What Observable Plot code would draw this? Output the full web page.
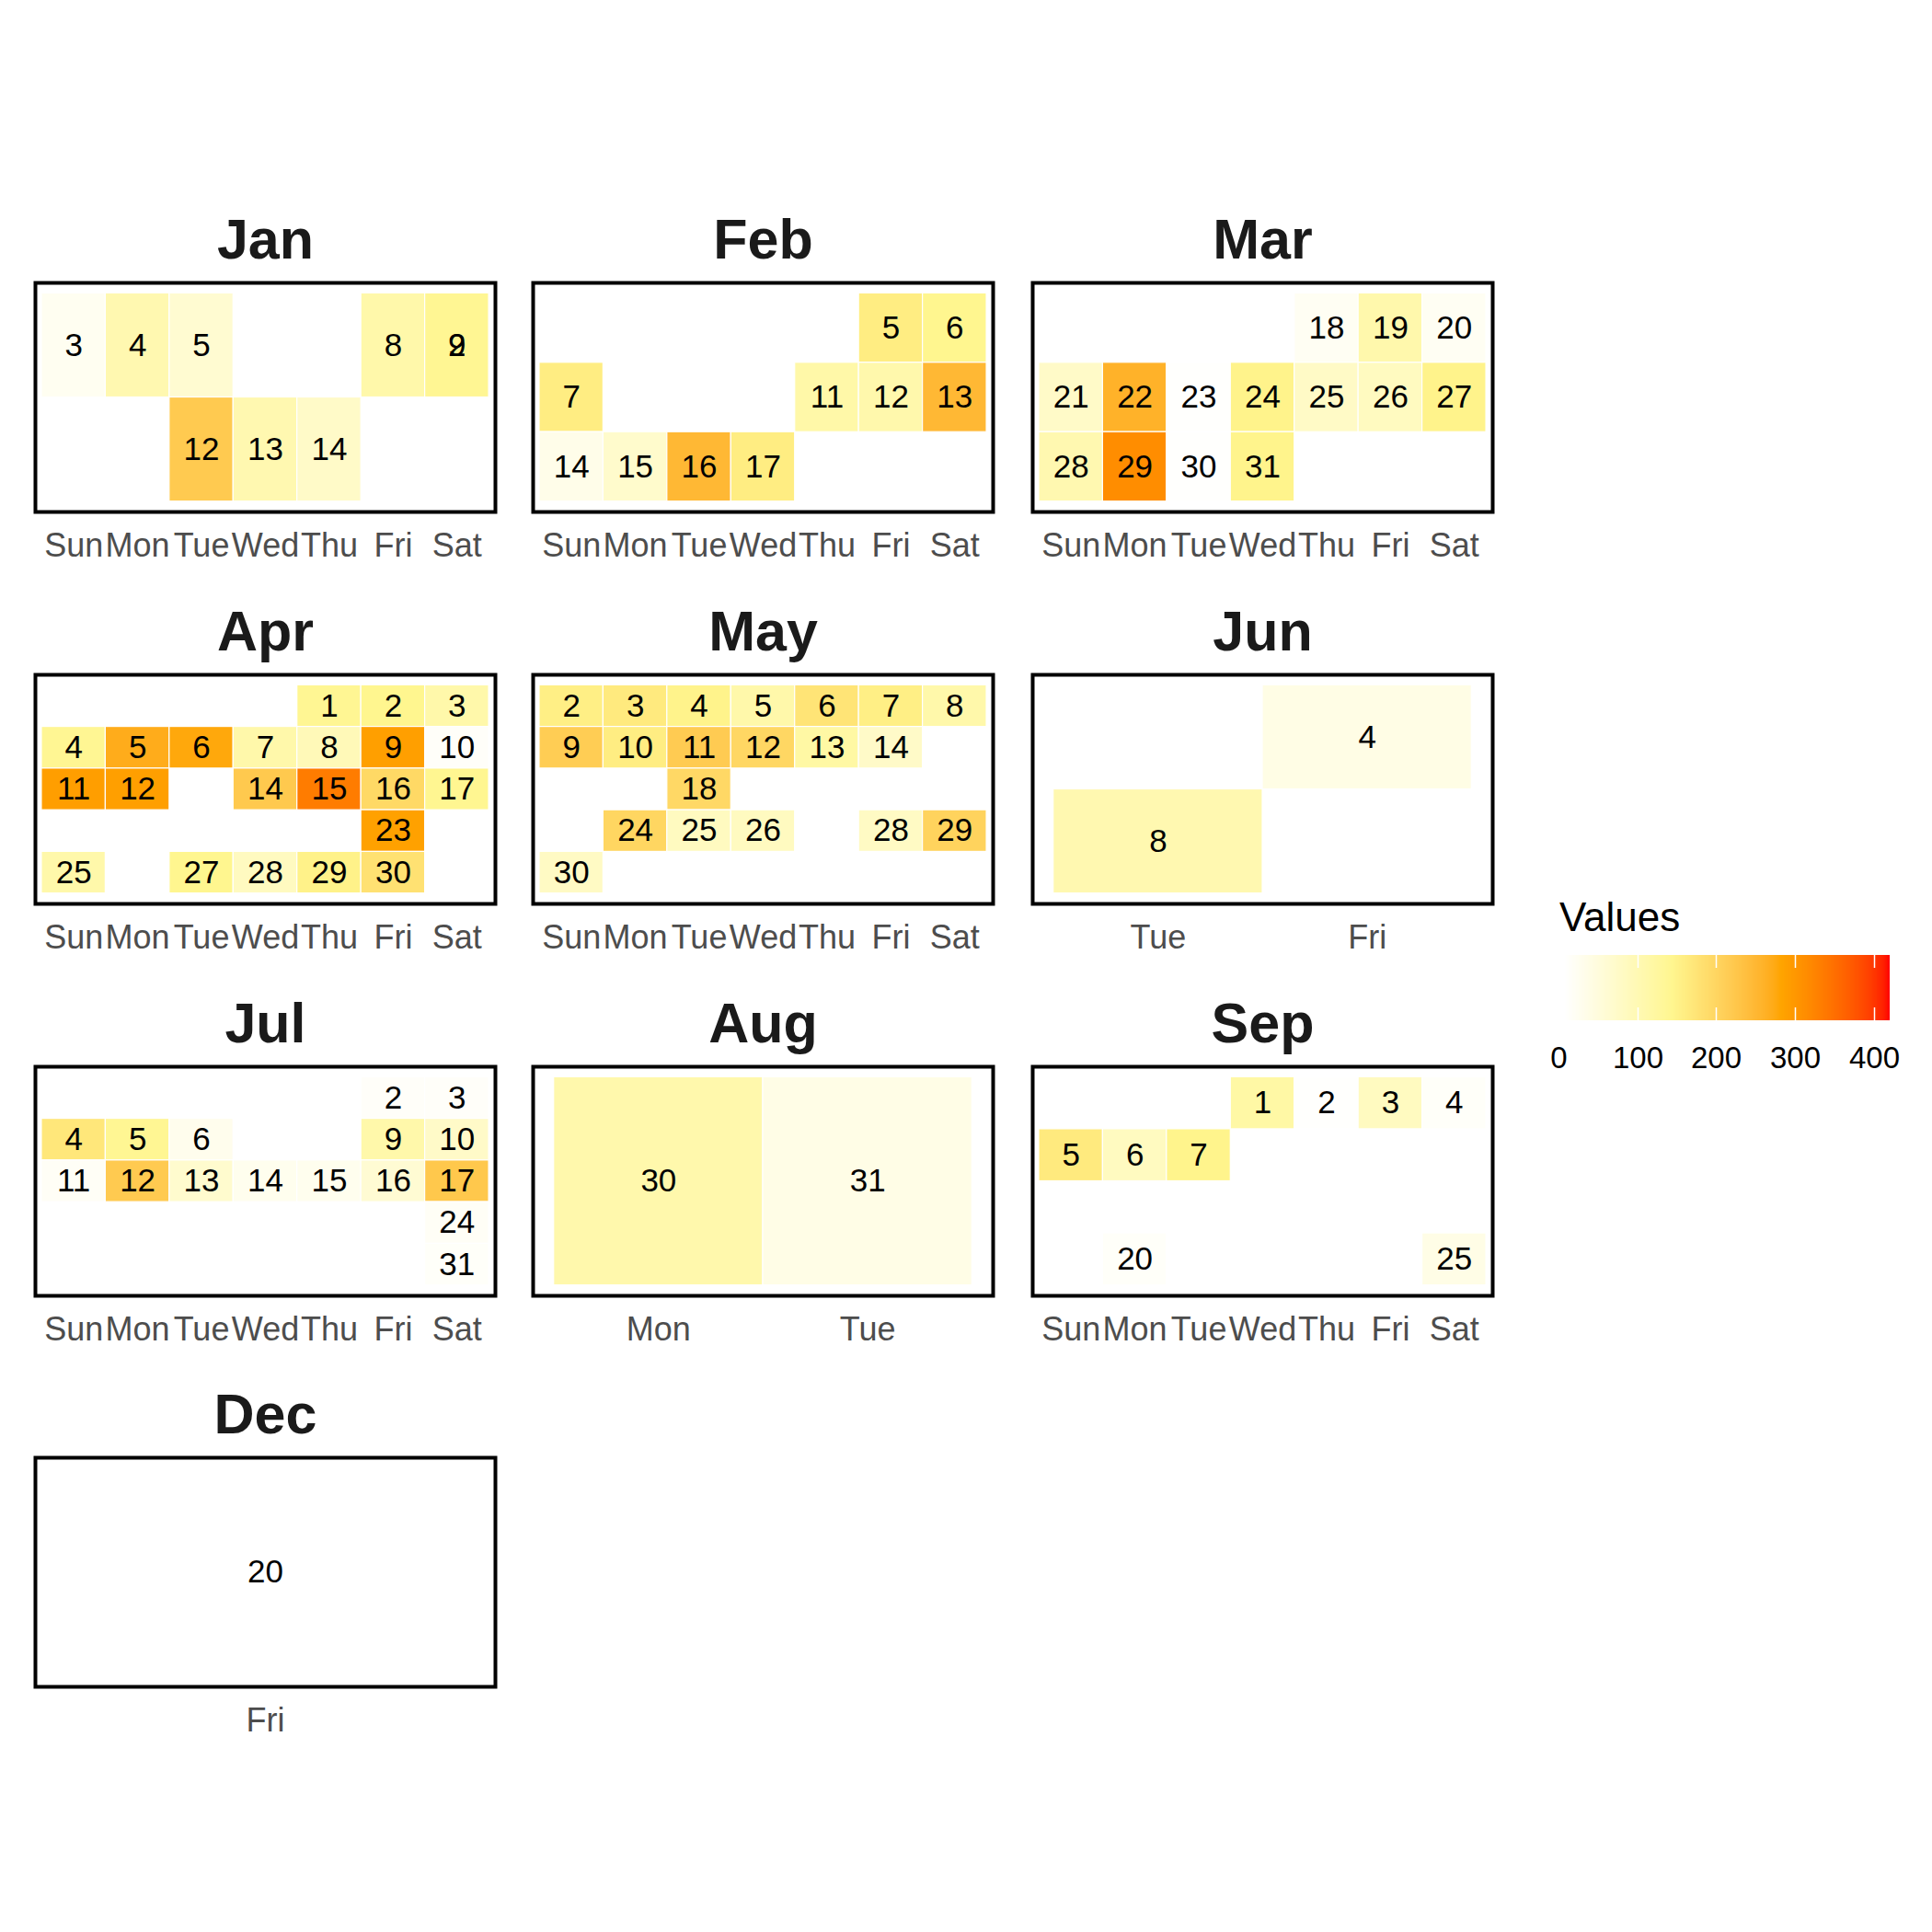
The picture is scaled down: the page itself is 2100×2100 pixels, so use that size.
<!DOCTYPE html>
<html>
<head>
<meta charset="utf-8">
<script src="https://cdn.jsdelivr.net/npm/d3@7"></script>
<script src="https://cdn.jsdelivr.net/npm/@observablehq/plot@0.6"></script>
<style>
  html, body { margin: 0; padding: 0; background: #ffffff; }
  #root { position: relative; width: 2100px; height: 2100px; background: #ffffff; overflow: hidden;
          font-family: "Liberation Sans", Arial, Helvetica, sans-serif; }
  .panel { position: absolute; }
  .legend-title { position: absolute; font-size: 44px; line-height: 44px; color: #000; white-space: nowrap; }
</style>
</head>
<body>
<div id="root"></div>
<script>
// ---------------- data ----------------
const monthNames = ["Jan", "Feb", "Mar", "Apr", "May", "Jun", "Jul", "Aug", "Sep", "Dec"];
const weekdayOrder = ["Sun", "Mon", "Tue", "Wed", "Thu", "Fri", "Sat"];
const legendTitle = "Values";
const legendTicks = [0, 100, 200, 300, 400];
const palette = ["#FFFFFF", "#FFF68F", "#FFA500", "#FF0000"];

// one entry per day shown: month, day of month, weekday column, week row, value
const month = [
  "Jan","Jan","Jan","Jan","Jan","Jan","Jan","Jan","Jan",
  "Feb","Feb","Feb","Feb","Feb","Feb","Feb","Feb","Feb","Feb",
  "Mar","Mar","Mar","Mar","Mar","Mar","Mar","Mar","Mar","Mar","Mar","Mar","Mar","Mar",
  "Apr","Apr","Apr","Apr","Apr","Apr","Apr","Apr","Apr","Apr","Apr","Apr","Apr","Apr","Apr","Apr","Apr","Apr","Apr","Apr","Apr","Apr",
  "May","May","May","May","May","May","May","May","May","May","May","May","May","May","May","May","May","May","May","May",
  "Jun","Jun",
  "Jul","Jul","Jul","Jul","Jul","Jul","Jul","Jul","Jul","Jul","Jul","Jul","Jul","Jul","Jul","Jul",
  "Aug","Aug",
  "Sep","Sep","Sep","Sep","Sep","Sep","Sep","Sep","Sep",
  "Dec"
];
const day = [
  2, 3, 4, 5, 8, 9, 12, 13, 14,
  5, 6, 7, 11, 12, 13, 14, 15, 16, 17,
  18, 19, 20, 21, 22, 23, 24, 25, 26, 27, 28, 29, 30, 31,
  1, 2, 3, 4, 5, 6, 7, 8, 9, 10, 11, 12, 14, 15, 16, 17, 23, 25, 27, 28, 29, 30,
  2, 3, 4, 5, 6, 7, 8, 9, 10, 11, 12, 13, 14, 18, 24, 25, 26, 28, 29, 30,
  4, 8,
  2, 3, 4, 5, 6, 9, 10, 11, 12, 13, 14, 15, 16, 17, 24, 31,
  30, 31,
  1, 2, 3, 4, 5, 6, 7, 20, 25,
  20
];
const weekday = [
  "Sat","Sun","Mon","Tue","Fri","Sat","Tue","Wed","Thu",
  "Fri","Sat","Sun","Thu","Fri","Sat","Sun","Mon","Tue","Wed",
  "Thu","Fri","Sat","Sun","Mon","Tue","Wed","Thu","Fri","Sat","Sun","Mon","Tue","Wed",
  "Thu","Fri","Sat","Sun","Mon","Tue","Wed","Thu","Fri","Sat","Sun","Mon","Wed","Thu","Fri","Sat","Fri","Sun","Tue","Wed","Thu","Fri",
  "Sun","Mon","Tue","Wed","Thu","Fri","Sat","Sun","Mon","Tue","Wed","Thu","Fri","Tue","Mon","Tue","Wed","Fri","Sat","Sun",
  "Fri","Tue",
  "Fri","Sat","Sun","Mon","Tue","Fri","Sat","Sun","Mon","Tue","Wed","Thu","Fri","Sat","Sat","Sat",
  "Mon","Tue",
  "Wed","Thu","Fri","Sat","Sun","Mon","Tue","Mon","Sat",
  "Fri"
];
const week = [
  1, 1, 1, 1, 1, 1, 2, 2, 2,
  5, 5, 6, 6, 6, 6, 7, 7, 7, 7,
  11, 11, 11, 12, 12, 12, 12, 12, 12, 12, 13, 13, 13, 13,
  13, 13, 13, 14, 14, 14, 14, 14, 14, 14, 15, 15, 15, 15, 15, 15, 16, 17, 17, 17, 17, 17,
  18, 18, 18, 18, 18, 18, 18, 19, 19, 19, 19, 19, 19, 20, 21, 21, 21, 21, 21, 22,
  22, 23,
  26, 26, 27, 27, 27, 27, 27, 28, 28, 28, 28, 28, 28, 28, 29, 30,
  35, 35,
  35, 35, 35, 35, 36, 36, 36, 38, 38,
  50
];
const value = [
  420, 25, 105, 65, 112, 140, 220, 105, 75,
  160, 145, 160, 115, 110, 250, 35, 70, 250, 160,
  22, 110, 22, 75, 260, 10, 150, 78, 85, 150, 105, 315, 10, 148,
  140, 145, 112, 140, 270, 278, 112, 95, 290, 15, 292, 290, 222, 335, 195, 142, 288, 112, 145, 85, 152, 180,
  157, 165, 150, 112, 175, 157, 112, 215, 160, 218, 198, 120, 75, 196, 200, 85, 85, 80, 205, 80,
  40, 105,
  15, 15, 170, 140, 30, 112, 75, 18, 220, 68, 28, 28, 62, 224, 18, 14,
  110, 38,
  118, 9, 85, 14, 165, 85, 148, 14, 38,
  7
];

// ---------------- build ----------------
const FONT = '"Liberation Sans", Arial, Helvetica, sans-serif';
const records = month.map((m, i) => ({month: m, day: day[i], weekday: weekday[i], week: week[i], value: value[i]}));
const [lo, hi] = d3.extent(value);
const stops = palette.map((_, i) => lo + i * (hi - lo) / (palette.length - 1));
const colorScale = {type: "linear", domain: stops, range: palette, interpolate: "lab"};

const root = document.getElementById("root");
const PW = 500, PH = 249, ML = 20, MR = 20, MT = 90, MB = 70;
const colLeft = [38, 579, 1122];
const rowTop = [307, 733, 1159, 1584];

monthNames.forEach((name, k) => {
  const rows = records.filter(d => d.month === name);
  const xs = weekdayOrder.filter(w => rows.some(d => d.weekday === w));
  const [w0, w1] = d3.extent(rows, d => d.week);
  const ys = d3.range(w0, w1 + 1);
  const chart = Plot.plot({
    width: PW + ML + MR,
    height: PH + MT + MB,
    marginLeft: ML, marginRight: MR, marginTop: MT, marginBottom: MB,
    style: {fontFamily: FONT, background: "transparent", overflow: "visible"},
    x: {type: "band", domain: xs, paddingInner: 0, paddingOuter: 0.1, round: false},
    // continuous-style 5% expansion on the week axis
    y: {type: "band", domain: ys, paddingInner: 0, paddingOuter: ys.length / 20, round: false, axis: null},
    color: colorScale,
    marks: [
      Plot.cell(rows, {x: "weekday", y: "week", fill: "value", stroke: "white", strokeWidth: 1.2}),
      Plot.text(rows, {x: "weekday", y: "week", text: d => String(d.day), fontSize: 35, fill: "black"}),
      Plot.frame({stroke: "black", strokeWidth: 4}),
      Plot.axisX({tickSize: 0, tickPadding: 23, fontSize: 36, color: "#4D4D4D", label: null}),
      Plot.text([name], {frameAnchor: "top", text: d => d, lineAnchor: "bottom", dy: -27,
                         fontSize: 61, fontWeight: "bold", fill: "#1A1A1A"})
    ]
  });
  const wrap = document.createElement("div");
  wrap.className = "panel";
  wrap.style.left = (colLeft[k % 3] - ML) + "px";
  wrap.style.top = (rowTop[Math.floor(k / 3)] - MT) + "px";
  wrap.style.width = (PW + ML + MR) + "px";
  wrap.appendChild(chart);
  root.appendChild(wrap);
});

// ---------------- legend ----------------
const LBW = 354, LBH = 71, LML = 30, LMR = 30, LMT = 5, LMB = 55;
const legendEl = Plot.legend({
  color: colorScale,
  label: null,
  ticks: legendTicks,
  tickSize: 26,
  width: LBW + LML + LMR,
  height: LBH + LMT + LMB,
  marginLeft: LML, marginRight: LMR, marginTop: LMT, marginBottom: LMB,
  style: {fontFamily: FONT, fontSize: "33px", color: "black", background: "transparent", overflow: "visible"}
});
const lsel = d3.select(legendEl);
lsel.selectAll("text").style("font-size", "33px").style("font-family", FONT).attr("fill", "black");
lsel.selectAll(".tick").each(function () {
  const g = d3.select(this);
  g.select("line").attr("y1", -14).attr("y2", 0).attr("stroke", "white").attr("stroke-width", 1.5);
  g.insert("line", "text").attr("y1", -LBH).attr("y2", -LBH + 14).attr("stroke", "white").attr("stroke-width", 1.5);
});
const lwrap = document.createElement("div");
lwrap.className = "panel";
lwrap.style.left = (1700 - LML) + "px";
lwrap.style.top = (1038 - LMT) + "px";
lwrap.style.width = (LBW + LML + LMR) + "px";
lwrap.appendChild(legendEl);
root.appendChild(lwrap);

const lt = document.createElement("div");
lt.className = "legend-title";
lt.style.left = "1695px";
lt.style.top = "975px";
lt.textContent = legendTitle;
root.appendChild(lt);
</script>
</body>
</html>
